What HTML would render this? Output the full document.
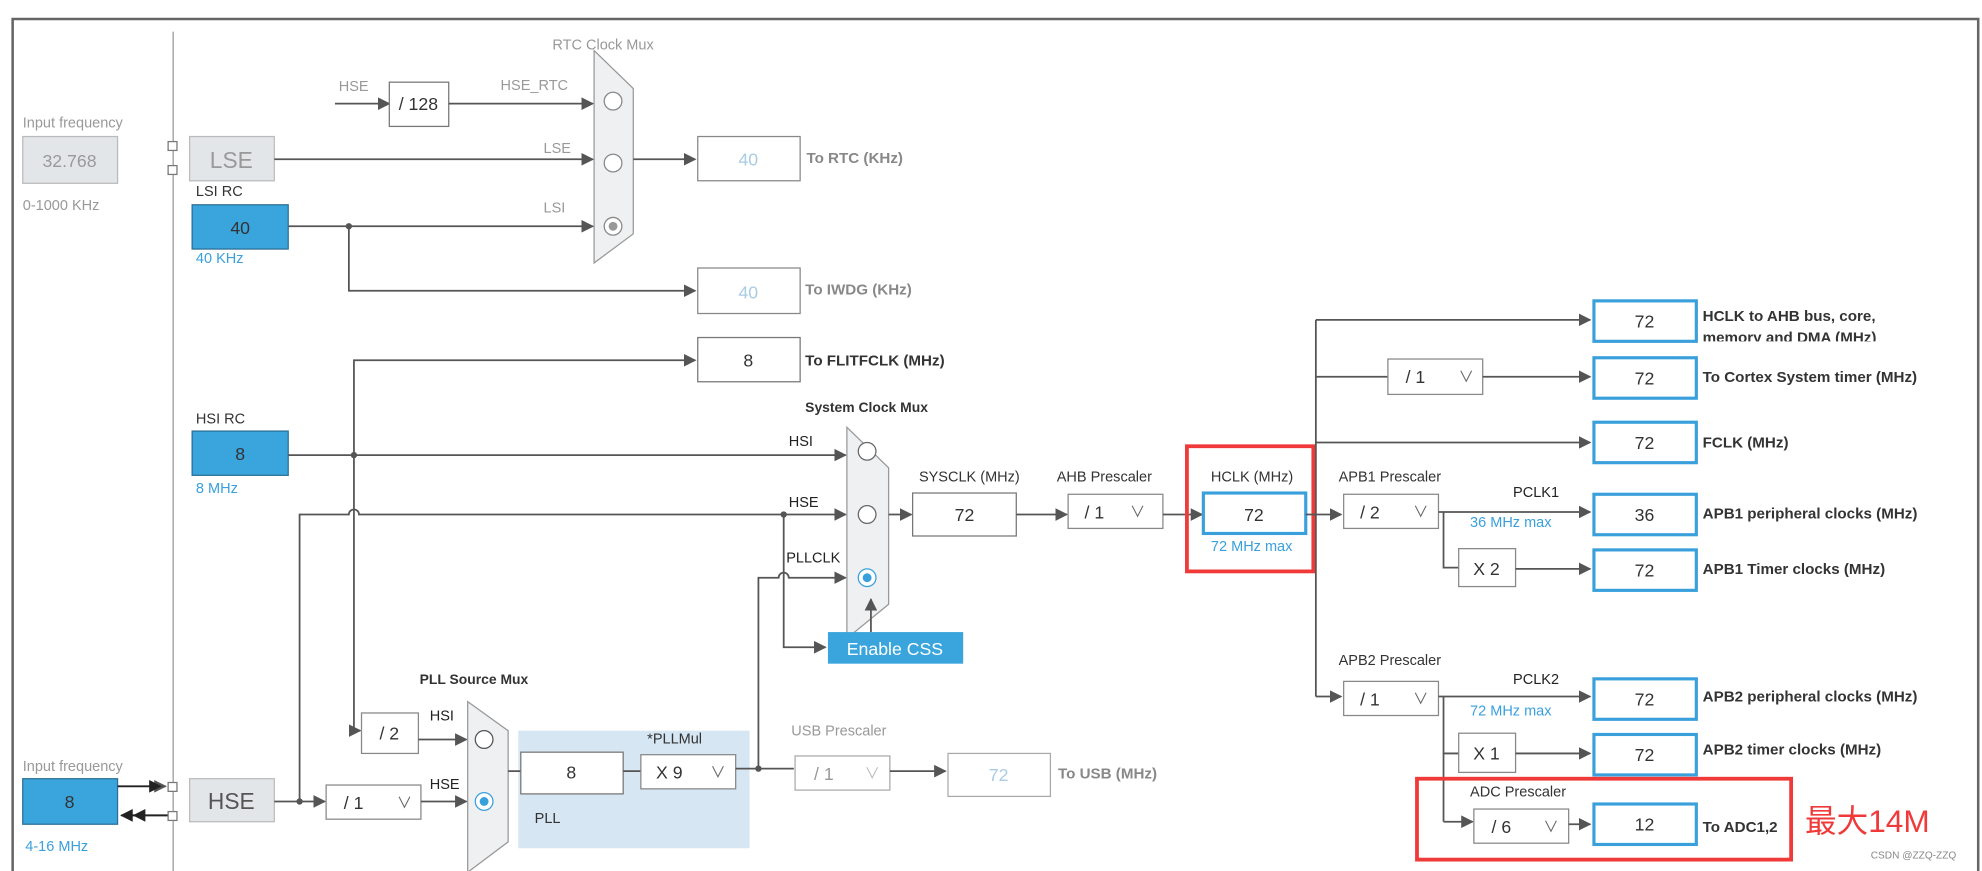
<!DOCTYPE html>
<html><head><meta charset="utf-8"><style>
html,body{margin:0;padding:0;background:#fff;width:1982px;height:871px;overflow:hidden}
svg{display:block}
text{font-family:"Liberation Sans","Noto Sans CJK SC",sans-serif}
.l{fill:#555;font-size:11.5px}
.g{fill:#999;font-size:11.5px}
.b{fill:#333;font-size:12px;font-weight:bold}
.bg{fill:#888;font-size:12px;font-weight:bold}
.bl{fill:#3aa0dc;font-size:11.5px}
.n{font-size:14px;fill:#333;text-anchor:middle}
.ln{stroke:#555;stroke-width:1.4;fill:none}
</style></head><body>
<svg width="1982" height="871" viewBox="0 0 1568 689" preserveAspectRatio="none">
<defs><marker id="a" markerWidth="10" markerHeight="10" refX="9" refY="5" orient="auto" markerUnits="userSpaceOnUse"><path d="M0,0L10,5L0,10z" fill="#555"/></marker></defs>
<path d="M10,689V15H1565V689" stroke="#666" stroke-width="2" fill="none"/>
<line x1="137" y1="25" x2="137" y2="689" stroke="#999" stroke-width="1"/>
<text x="18" y="101" class="g">Input frequency</text>
<rect x="18" y="108" width="75" height="37" fill="#e3e6e9" stroke="#bbb"/>
<text x="55" y="132" class="n" style="fill:#999">32.768</text>
<text x="18" y="166" class="g">0-1000 KHz</text>
<rect x="133" y="112" width="7" height="7" fill="#fff" stroke="#777"/>
<rect x="133" y="131" width="7" height="7" fill="#fff" stroke="#777"/>
<rect x="150" y="108" width="67" height="35" fill="#e3e6e9" stroke="#bbb"/>
<text x="183" y="133" class="n" style="fill:#999;font-size:18px">LSE</text>
<text x="155" y="155" class="l" style="fill:#333">LSI RC</text>
<rect x="152" y="162" width="76" height="35" fill="#3aa5dc" stroke="#2a6f95"/>
<text x="190" y="185" class="n">40</text>
<text x="155" y="208" class="bl">40 KHz</text>
<text x="437" y="39" class="g">RTC Clock Mux</text>
<polygon points="470,40 501,70 501,185 470,208" fill="#eef0f2" stroke="#999"/>
<circle cx="485" cy="80" r="7" fill="#fff" stroke="#888"/>
<circle cx="485" cy="129" r="7" fill="#fff" stroke="#888"/>
<circle cx="485" cy="179" r="7" fill="#fff" stroke="#888"/><circle cx="485" cy="179" r="3.5" fill="#999"/>
<text x="268" y="72" class="g">HSE</text>
<line x1="265" y1="82" x2="308" y2="82" class="ln" marker-end="url(#a)"/>
<rect x="308" y="65" width="47" height="35" fill="#fff" stroke="#777"/>
<text x="331" y="87" class="n">/ 128</text>
<text x="396" y="71" class="g">HSE_RTC</text>
<line x1="355" y1="82" x2="469" y2="82" class="ln" marker-end="url(#a)"/>
<text x="430" y="121" class="g">LSE</text>
<line x1="217" y1="126" x2="469" y2="126" class="ln" marker-end="url(#a)"/>
<text x="430" y="168" class="g">LSI</text>
<line x1="228" y1="179" x2="469" y2="179" class="ln" marker-end="url(#a)"/>
<circle cx="276" cy="179" r="2.5" fill="#555"/>
<polyline points="276,179 276,230 550,230" class="ln" marker-end="url(#a)"/>
<line x1="501" y1="126" x2="550" y2="126" class="ln" marker-end="url(#a)"/>
<rect x="552" y="108" width="81" height="35" fill="#fff" stroke="#888"/>
<text x="592" y="131" class="n" style="fill:#a9cbe4">40</text>
<text x="638" y="129" class="bg">To RTC (KHz)</text>
<rect x="552" y="212" width="81" height="36" fill="#fff" stroke="#888"/>
<text x="592" y="236" class="n" style="fill:#a9cbe4">40</text>
<text x="637" y="233" class="bg">To IWDG (KHz)</text>
<rect x="552" y="267" width="81" height="35" fill="#fff" stroke="#777"/>
<text x="592" y="290" class="n">8</text>
<text x="637" y="289" class="b">To FLITFCLK (MHz)</text>
<polyline points="280,578 280,285 550,285" class="ln" marker-end="url(#a)"/>
<text x="155" y="335" class="l" style="fill:#333">HSI RC</text>
<rect x="152" y="341" width="76" height="35" fill="#3aa5dc" stroke="#2a6f95"/>
<text x="190" y="364" class="n">8</text>
<text x="155" y="390" class="bl">8 MHz</text>
<line x1="228" y1="360" x2="669" y2="360" class="ln" marker-end="url(#a)"/>
<circle cx="280" cy="360" r="2.5" fill="#555"/>
<text x="624" y="353" class="l" style="fill:#222">HSI</text>
<path d="M237,634V407H276A4,4 0 0 1 284,407H669" class="ln" marker-end="url(#a)"/>
<text x="624" y="401" class="l" style="fill:#222">HSE</text>
<circle cx="620" cy="407" r="2.5" fill="#555"/>
<polyline points="620,407 620,512 653,512" class="ln" marker-end="url(#a)"/>
<path d="M600,608V457H616A4,4 0 0 1 624,457H669" class="ln" marker-end="url(#a)"/>
<text x="622" y="445" class="l" style="fill:#222">PLLCLK</text>
<text x="637" y="326" class="b" style="font-size:11px">System Clock Mux</text>
<polygon points="670,338 703,370 703,478 670,505" fill="#eef0f2" stroke="#999"/>
<circle cx="686" cy="357" r="7" fill="#fff" stroke="#666"/>
<circle cx="686" cy="407" r="7" fill="#fff" stroke="#666"/>
<circle cx="686" cy="457" r="7" fill="#fff" stroke="#3aa0dc"/><circle cx="686" cy="457" r="3.5" fill="#3aa0dc"/>
<line x1="689" y1="500" x2="689" y2="474" class="ln" marker-end="url(#a)"/>
<rect x="655" y="500" width="107" height="25" fill="#3aa5dc"/>
<text x="708" y="518" class="n" style="fill:#fff">Enable CSS</text>
<text x="727" y="381" class="l" style="fill:#333">SYSCLK (MHz)</text>
<line x1="703" y1="407" x2="721" y2="407" class="ln" marker-end="url(#a)"/>
<rect x="722" y="390" width="82" height="34" fill="#fff" stroke="#777"/>
<text x="763" y="412" class="n">72</text>
<line x1="804" y1="407" x2="844" y2="407" class="ln" marker-end="url(#a)"/>
<text x="836" y="381" class="l" style="fill:#333">AHB Prescaler</text>
<rect x="845" y="391" width="75" height="27" fill="#fff" stroke="#888"/>
<text x="858" y="410" class="n" style="text-anchor:start">/ 1</text><text x="900" y="409" class="n" style="font-size:12px;fill:#666">∨</text>
<line x1="920" y1="407" x2="951" y2="407" class="ln" marker-end="url(#a)"/>
<text x="958" y="381" class="l" style="fill:#333">HCLK (MHz)</text>
<rect x="952" y="390" width="81" height="32" fill="#fff" stroke="#3aa0dc" stroke-width="2.5"/>
<text x="992" y="412" class="n">72</text>
<text x="958" y="436" class="bl">72 MHz max</text>
<rect x="939" y="353" width="100" height="99" fill="none" stroke="#f03a3a" stroke-width="3"/>
<line x1="1041" y1="407" x2="1041" y2="253" class="ln"/>
<line x1="1041" y1="407" x2="1041" y2="551" class="ln"/>
<line x1="1033" y1="407" x2="1061" y2="407" class="ln" marker-end="url(#a)"/>
<line x1="1041" y1="551" x2="1061" y2="551" class="ln" marker-end="url(#a)"/>
<line x1="1041" y1="253" x2="1258" y2="253" class="ln" marker-end="url(#a)"/>
<line x1="1041" y1="298" x2="1098" y2="298" class="ln"/>
<rect x="1098" y="284" width="75" height="28" fill="#fff" stroke="#888"/>
<text x="1112" y="303" class="n" style="text-anchor:start">/ 1</text><text x="1160" y="302" class="n" style="font-size:12px;fill:#666">∨</text>
<line x1="1173" y1="298" x2="1258" y2="298" class="ln" marker-end="url(#a)"/>
<line x1="1041" y1="350" x2="1258" y2="350" class="ln" marker-end="url(#a)"/>
<text x="1059" y="381" class="l" style="fill:#333">APB1 Prescaler</text>
<rect x="1063" y="391" width="75" height="27" fill="#fff" stroke="#888"/>
<text x="1076" y="410" class="n" style="text-anchor:start">/ 2</text><text x="1124" y="409" class="n" style="font-size:12px;fill:#666">∨</text>
<text x="1197" y="393" class="l" style="fill:#222">PCLK1</text>
<text x="1163" y="417" class="bl">36 MHz max</text>
<line x1="1138" y1="405" x2="1258" y2="405" class="ln" marker-end="url(#a)"/>
<polyline points="1142,405 1142,449 1154,449" class="ln"/>
<rect x="1154" y="434" width="45" height="30" fill="#fff" stroke="#888"/>
<text x="1176" y="455" class="n">X 2</text>
<line x1="1199" y1="450" x2="1258" y2="450" class="ln" marker-end="url(#a)"/>
<text x="1059" y="526" class="l" style="fill:#333">APB2 Prescaler</text>
<rect x="1063" y="539" width="75" height="27" fill="#fff" stroke="#888"/>
<text x="1076" y="558" class="n" style="text-anchor:start">/ 1</text><text x="1124" y="557" class="n" style="font-size:12px;fill:#666">∨</text>
<text x="1197" y="541" class="l" style="fill:#222">PCLK2</text>
<text x="1163" y="566" class="bl">72 MHz max</text>
<line x1="1138" y1="551" x2="1258" y2="551" class="ln" marker-end="url(#a)"/>
<polyline points="1142,551 1142,596 1154,596" class="ln"/>
<line x1="1142" y1="596" x2="1142" y2="650" class="ln"/>
<line x1="1142" y1="650" x2="1165" y2="650" class="ln" marker-end="url(#a)"/>
<rect x="1154" y="580" width="45" height="31" fill="#fff" stroke="#888"/>
<text x="1176" y="601" class="n">X 1</text>
<line x1="1199" y1="596" x2="1258" y2="596" class="ln" marker-end="url(#a)"/>
<text x="1163" y="630" class="l" style="fill:#333">ADC Prescaler</text>
<rect x="1166" y="640" width="75" height="27" fill="#fff" stroke="#888"/>
<text x="1180" y="659" class="n" style="text-anchor:start">/ 6</text><text x="1227" y="658" class="n" style="font-size:12px;fill:#666">∨</text>
<line x1="1241" y1="652" x2="1258" y2="652" class="ln" marker-end="url(#a)"/>
<g>
<rect x="1261" y="238" width="81" height="32" fill="#fff" stroke="#3aa0dc" stroke-width="2.5"/><text x="1301" y="259" class="n">72</text>
<rect x="1261" y="283" width="81" height="32" fill="#fff" stroke="#3aa0dc" stroke-width="2.5"/><text x="1301" y="304" class="n">72</text>
<rect x="1261" y="334" width="81" height="32" fill="#fff" stroke="#3aa0dc" stroke-width="2.5"/><text x="1301" y="355" class="n">72</text>
<rect x="1261" y="391" width="81" height="32" fill="#fff" stroke="#3aa0dc" stroke-width="2.5"/><text x="1301" y="412" class="n">36</text>
<rect x="1261" y="435" width="81" height="32" fill="#fff" stroke="#3aa0dc" stroke-width="2.5"/><text x="1301" y="456" class="n">72</text>
<rect x="1261" y="537" width="81" height="32" fill="#fff" stroke="#3aa0dc" stroke-width="2.5"/><text x="1301" y="558" class="n">72</text>
<rect x="1261" y="581" width="81" height="32" fill="#fff" stroke="#3aa0dc" stroke-width="2.5"/><text x="1301" y="602" class="n">72</text>
<rect x="1261" y="636" width="81" height="32" fill="#fff" stroke="#3aa0dc" stroke-width="2.5"/><text x="1301" y="657" class="n">12</text>
</g>
<text x="1347" y="254" class="b">HCLK to AHB bus, core,</text>
<svg x="1347" y="258" width="200" height="12"><text x="0" y="13" class="b">memory and DMA (MHz)</text></svg>
<text x="1347" y="302" class="b">To Cortex System timer (MHz)</text>
<text x="1347" y="354" class="b">FCLK (MHz)</text>
<text x="1347" y="410" class="b">APB1 peripheral clocks (MHz)</text>
<text x="1347" y="454" class="b">APB1 Timer clocks (MHz)</text>
<text x="1347" y="555" class="b">APB2 peripheral clocks (MHz)</text>
<text x="1347" y="597" class="b">APB2 timer clocks (MHz)</text>
<text x="1347" y="658" class="b">To ADC1,2</text>
<rect x="1121" y="616" width="296" height="64" fill="none" stroke="#f03a3a" stroke-width="3"/>
<text x="1428" y="658" style="fill:#f03a3a;font-size:25px">最大14M</text>
<text x="1480" y="679" style="fill:#888;font-size:8px">CSDN @ZZQ-ZZQ</text>
<text x="18" y="610" class="g">Input frequency</text>
<rect x="18" y="616" width="75" height="36" fill="#3aa5dc" stroke="#2a6f95"/>
<text x="55" y="639" class="n">8</text>
<text x="20" y="673" class="bl">4-16 MHz</text>
<line x1="93" y1="622" x2="131" y2="622" stroke="#222" stroke-width="1.5" marker-end="url(#a)"/>
<path d="M118,617L128,622L118,627z" fill="#222"/>
<line x1="137" y1="645" x2="96" y2="645" stroke="#222" stroke-width="1.5"/>
<path d="M95,645L105,640V650z M105,645L115,640V650z" fill="#222"/>
<rect x="133" y="619" width="7" height="7" fill="#fff" stroke="#777"/>
<rect x="133" y="642" width="7" height="7" fill="#fff" stroke="#777"/>
<rect x="150" y="616" width="67" height="34" fill="#e3e6e9" stroke="#bbb"/>
<text x="183" y="640" class="n" style="fill:#555;font-size:18px">HSE</text>
<line x1="217" y1="634" x2="257" y2="634" class="ln" marker-end="url(#a)"/>
<circle cx="237" cy="634" r="2.5" fill="#555"/>
<rect x="258" y="621" width="75" height="27" fill="#fff" stroke="#888"/>
<text x="272" y="640" class="n" style="text-anchor:start">/ 1</text><text x="320" y="639" class="n" style="font-size:12px;fill:#666">∨</text>
<line x1="333" y1="634" x2="369" y2="634" class="ln" marker-end="url(#a)"/>
<line x1="280" y1="578" x2="285" y2="578" class="ln" marker-end="url(#a)"/>
<rect x="286" y="564" width="45" height="32" fill="#fff" stroke="#888"/>
<text x="308" y="585" class="n">/ 2</text>
<line x1="331" y1="585" x2="369" y2="585" class="ln" marker-end="url(#a)"/>
<text x="340" y="570" class="l" style="fill:#222">HSI</text>
<text x="340" y="624" class="l" style="fill:#222">HSE</text>
<text x="332" y="541" class="b" style="font-size:11px">PLL Source Mux</text>
<polygon points="370,555 402,578 402,666 370,690" fill="#eef0f2" stroke="#999"/>
<circle cx="383" cy="585" r="7" fill="#fff" stroke="#555"/>
<circle cx="383" cy="634" r="7" fill="#fff" stroke="#3aa0dc"/><circle cx="383" cy="634" r="3.5" fill="#3aa0dc"/>
<rect x="410" y="578" width="183" height="93" fill="#d6e6f3"/>
<text x="423" y="651" class="l" style="fill:#333">PLL</text>
<line x1="402" y1="610" x2="412" y2="610" class="ln"/>
<rect x="412" y="595" width="81" height="33" fill="#fff" stroke="#777"/>
<text x="452" y="616" class="n">8</text>
<line x1="493" y1="610" x2="507" y2="610" class="ln"/>
<text x="512" y="588" class="l" style="fill:#333">*PLLMul</text>
<rect x="507" y="597" width="75" height="27" fill="#fff" stroke="#888"/>
<text x="519" y="616" class="n" style="text-anchor:start">X 9</text><text x="568" y="615" class="n" style="font-size:12px;fill:#666">∨</text>
<line x1="582" y1="608" x2="628" y2="608" class="ln"/>
<circle cx="600" cy="608" r="2.5" fill="#555"/>
<text x="626" y="582" class="g">USB Prescaler</text>
<rect x="629" y="598" width="75" height="27" fill="#fff" stroke="#aaa"/>
<text x="644" y="617" class="n" style="text-anchor:start;fill:#999">/ 1</text><text x="690" y="616" class="n" style="font-size:12px;fill:#bbb">∨</text>
<line x1="704" y1="610" x2="748" y2="610" class="ln" marker-end="url(#a)"/>
<rect x="750" y="596" width="81" height="34" fill="#fff" stroke="#aaa"/>
<text x="790" y="618" class="n" style="fill:#a9cbe4">72</text>
<text x="837" y="616" class="bg">To USB (MHz)</text>
</svg>
</body></html>
